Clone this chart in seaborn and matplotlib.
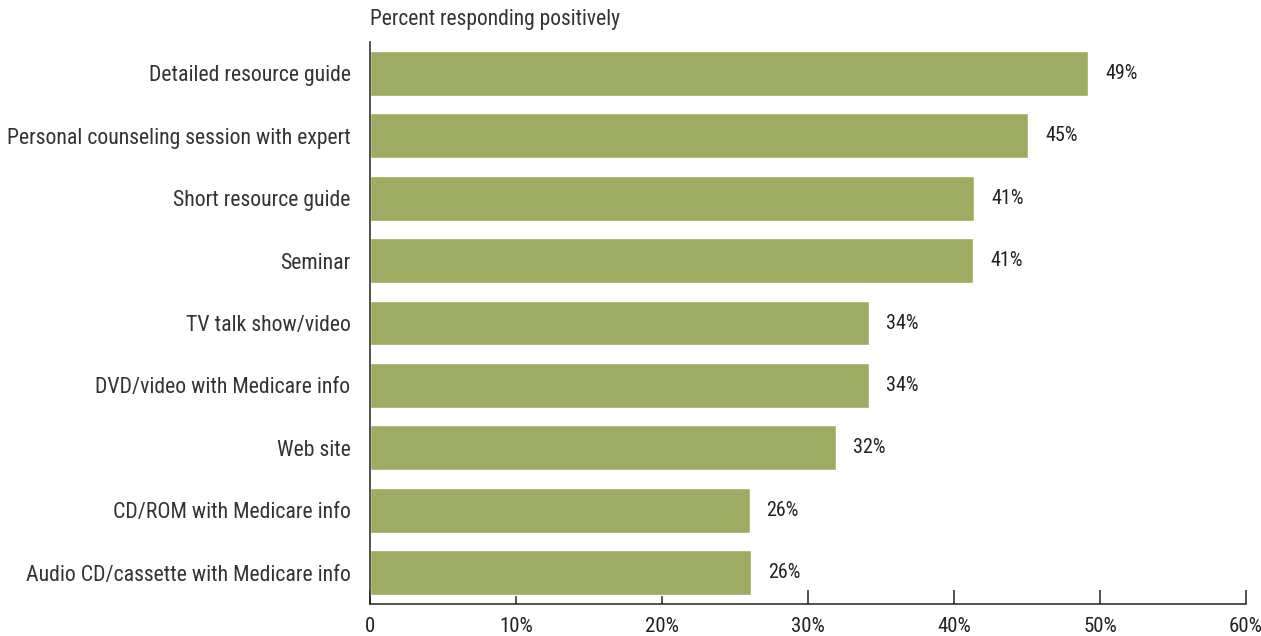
import matplotlib
matplotlib.use("Agg")
import matplotlib.pyplot as plt
import seaborn as sns
import pandas as pd

categories = [
    "Detailed resource guide",
    "Personal counseling session with expert",
    "Short resource guide",
    "Seminar",
    "TV talk show/video",
    "DVD/video with Medicare info",
    "Web site",
    "CD/ROM with Medicare info",
    "Audio CD/cassette with Medicare info",
]
values = [49.2, 45.1, 41.4, 41.3, 34.2, 34.2, 31.9, 26.0, 26.1]
value_labels = ["49%", "45%", "41%", "41%", "34%", "34%", "32%", "26%", "26%"]
x_ticks = [0, 10, 20, 30, 40, 50, 60]
x_tick_labels = ["0", "10%", "20%", "30%", "40%", "50%", "60%"]
title = "Percent responding positively"

sns.set_theme(style="white")
plt.rcParams["font.family"] = ["Roboto Condensed", "DejaVu Sans"]

df = pd.DataFrame({"cat": categories, "val": values})
fig = plt.figure(figsize=(12.61, 6.36), dpi=100)
ax = fig.add_axes([370 / 1261, 1 - 604 / 636, (1246 - 370) / 1261, (604 - 42) / 636])
sns.barplot(data=df, y="cat", x="val", orient="h", color="#9dac62", saturation=1,
            width=0.72, ax=ax)
ax.set_xlim(0, 60)
ax.set_ylim(len(categories) - 0.5, -0.5)
ax.set_xlabel("")
ax.set_ylabel("")
ax.set_xticks(x_ticks)
ax.set_xticklabels(x_tick_labels)
for s in ["top", "right"]:
    ax.spines[s].set_visible(False)
for s in ["left", "bottom"]:
    ax.spines[s].set_color("#222222")
    ax.spines[s].set_linewidth(1.1)
ax.tick_params(axis="x", direction="in", length=10, width=1.1, color="#222222",
               labelsize=15, labelcolor="#222222", pad=9, bottom=True)
ax.tick_params(axis="y", length=0, labelsize=15.7, labelcolor="#333333", pad=14)
for i, (v, lab) in enumerate(zip(values, value_labels)):
    ax.annotate(lab, xy=(v, i), xytext=(17, 0), textcoords="offset pixels",
                ha="left", va="center", fontsize=14.5, color="#222222")
fig.text(370 / 1261, 1 - 20 / 636, title, ha="left", va="center", fontsize=15.5,
         color="#333333")
fig.savefig("out.png", dpi=100)
